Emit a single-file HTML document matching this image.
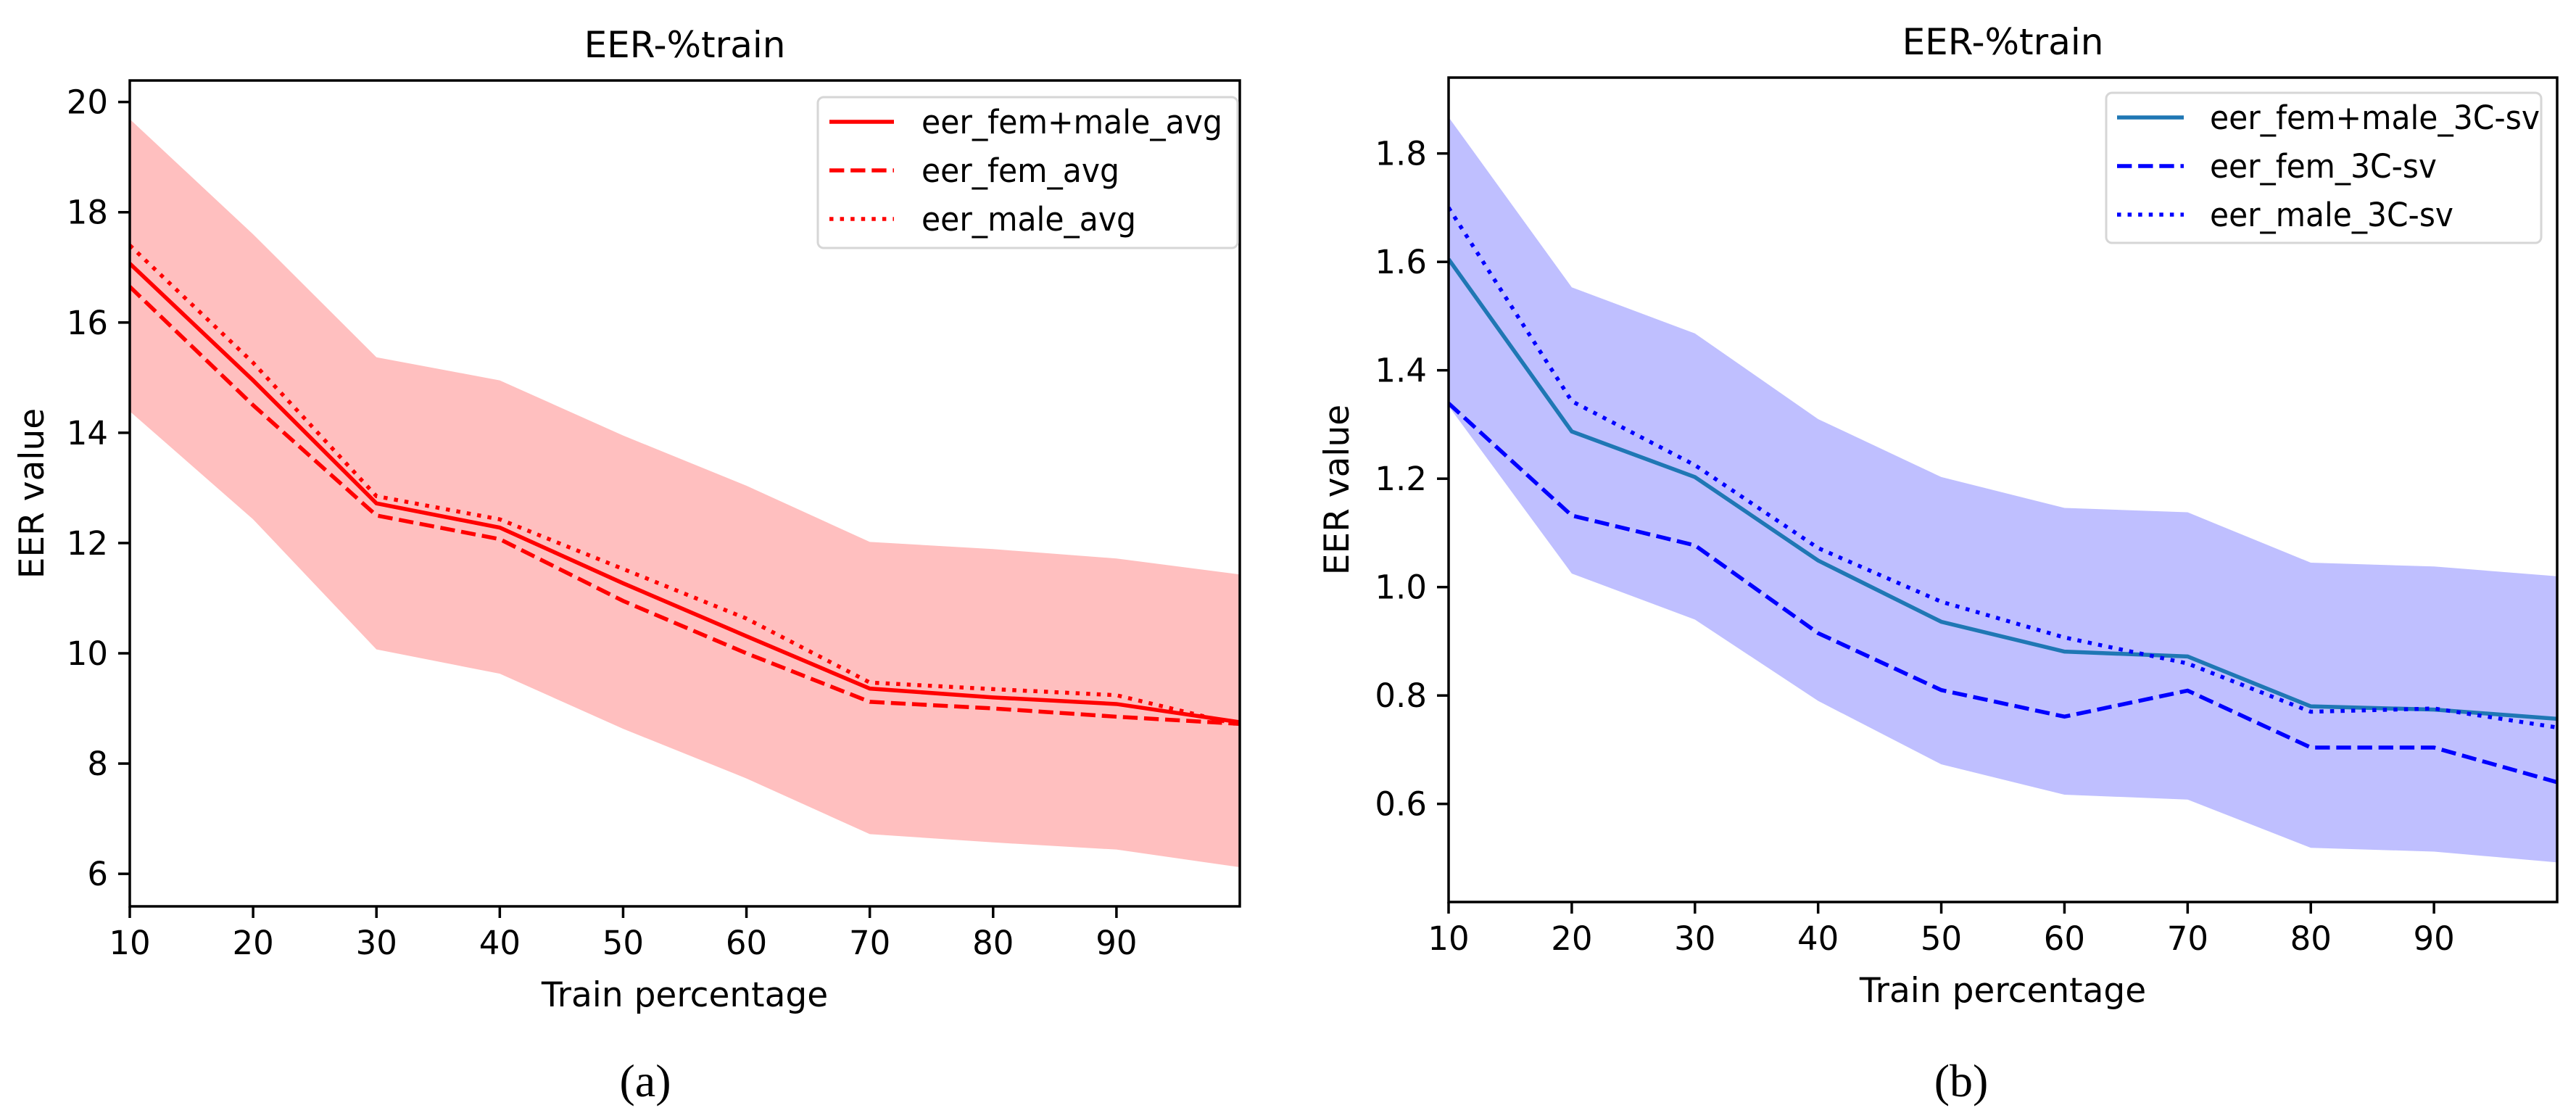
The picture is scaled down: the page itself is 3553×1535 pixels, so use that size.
<!DOCTYPE html>
<html><head><meta charset="utf-8"><style>
html,body{margin:0;padding:0;background:#fff;}
svg{display:block;font-family:"DejaVu Sans","Liberation Sans",sans-serif;}
</style></head><body>
<svg id="fig" width="3553" height="1535" viewBox="0 0 3553 1535" xmlns="http://www.w3.org/2000/svg"></svg>
<script>
const xCats = [10,20,30,40,50,60,70,80,90,100];
const xTicks = [10,20,30,40,50,60,70,80,90];
// Panel (a)
const aMean = [17.07,14.95,12.72,12.28,11.27,10.31,9.36,9.2,9.08,8.75];
const aFem  = [16.65,14.5,12.5,12.07,10.95,10.0,9.12,9.0,8.85,8.72];
const aMale = [17.4,15.27,12.85,12.43,11.53,10.63,9.47,9.35,9.24,8.7];
const aUpper = [19.69,17.6,15.37,14.95,13.95,13.04,12.02,11.89,11.72,11.43];
const aLower = [14.39,12.43,10.07,9.63,8.63,7.73,6.72,6.57,6.44,6.12];
const aYTicks = [6,8,10,12,14,16,18,20];
// Panel (b)
const bMean = [1.605,1.287,1.203,1.049,0.936,0.881,0.872,0.78,0.774,0.757];
const bFem  = [1.339,1.132,1.077,0.915,0.81,0.761,0.809,0.704,0.704,0.64];
const bMale = [1.70,1.343,1.225,1.072,0.973,0.907,0.859,0.77,0.776,0.741];
const bUpper = [1.867,1.553,1.468,1.31,1.203,1.146,1.138,1.045,1.038,1.02];
const bLower = [1.334,1.025,0.94,0.79,0.673,0.617,0.608,0.519,0.512,0.492];
const bYTicks = [0.6,0.8,1.0,1.2,1.4,1.6,1.8];
const aLegend = ["eer_fem+male_avg","eer_fem_avg","eer_male_avg"];
const bLegend = ["eer_fem+male_3C-sv","eer_fem_3C-sv","eer_male_3C-sv"];

const NS="http://www.w3.org/2000/svg";
const svg=document.getElementById('fig');
function el(tag,attrs,parent,text){const e=document.createElementNS(NS,tag);for(const k in attrs)e.setAttribute(k,attrs[k]);if(text!==undefined)e.textContent=text;(parent||svg).appendChild(e);return e;}

function panel(cfg){
  const g=el('g',{},svg);
  
  
  const X=v=>cfg.l+(v-10)/90*(cfg.r-cfg.l);
  const Y=v=>cfg.b-(v-cfg.ymin)/(cfg.ymax-cfg.ymin)*(cfg.b-cfg.t);
  let d='M'+xCats.map((x,i)=>X(x)+','+Y(cfg.upper[i])).join(' L');
  for(let i=xCats.length-1;i>=0;i--) d+=' L'+X(xCats[i])+','+Y(cfg.lower[i]);
  const band=el('path',{d:d+'Z',fill:cfg.band,stroke:'none'},g);
  
  
  const lw=5.5;
  const styles=[{c:cfg.c1,da:''},{c:cfg.c2,da:(3.7*lw)+','+(1.6*lw)},{c:cfg.c2,da:(1*lw)+','+(1.65*lw)}];
  const series=[cfg.mean,cfg.fem,cfg.male];
  const names=['line-mean','line-fem','line-male'];
  const clip=el('clipPath',{id:'clip'+cfg.name},g);
  el('rect',{x:cfg.l,y:cfg.t,width:cfg.r-cfg.l,height:cfg.b-cfg.t},clip);
  series.forEach((s,k)=>{
    const p=el('polyline',{points:xCats.map((x,i)=>X(x)+','+Y(s[i])).join(' '),fill:'none',stroke:styles[k].c,'stroke-width':lw,'stroke-dasharray':styles[k].da,'clip-path':'url(#clip'+cfg.name+')'},g);
    
    
  });
  const fr=el('rect',{x:cfg.l,y:cfg.t,width:cfg.r-cfg.l,height:cfg.b-cfg.t,fill:'none',stroke:'#000','stroke-width':3.5},g);
  
  
  xTicks.forEach(v=>{
    el('line',{x1:X(v),x2:X(v),y1:cfg.b,y2:cfg.b+16,stroke:'#000','stroke-width':3.5},g);
    const t=el('text',{x:X(v),y:cfg.b+66,'font-size':45,'text-anchor':'middle',fill:'#000'},g,String(v));
    
    
  });
  cfg.yticks.forEach(v=>{
    el('line',{x1:cfg.l-16,x2:cfg.l,y1:Y(v),y2:Y(v),stroke:'#000','stroke-width':3.5},g);
    const t=el('text',{x:cfg.l-30,y:Y(v)+16,'font-size':45,'text-anchor':'end',fill:'#000'},g,cfg.fmt(v));
    
    
  });
  const cx=(cfg.l+cfg.r)/2;
  const ti=el('text',{x:cx,y:cfg.t-32,'font-size':50,'text-anchor':'middle',fill:'#000'},g,'EER-%train');
  
  
  const xl=el('text',{x:cx,y:cfg.b+138,'font-size':47,'text-anchor':'middle',fill:'#000'},g,'Train percentage');
  
  
  const yl=el('text',{x:cfg.ylx,y:(cfg.t+cfg.b)/2,'font-size':47,'text-anchor':'middle',fill:'#000',transform:'rotate(-90 '+cfg.ylx+' '+(cfg.t+cfg.b)/2+')'},g,'EER value');
  
  
  const cap=el('text',{x:cfg.capx,y:1512,'font-size':64,'text-anchor':'middle',fill:'#000','font-family':'"Liberation Serif",serif'},g,'('+cfg.cap+')');
  
  
  const L=cfg.leg;
  const lg=el('g',{},g);
  
  
  el('rect',{x:L.x1,y:L.y1,width:L.x2-L.x1,height:L.y2-L.y1,rx:8,fill:'#fff','fill-opacity':0.8,stroke:'#d6d6d6','stroke-width':3},lg);
  cfg.labels.forEach((lab,k)=>{
    const ry=L.y1+34+k*67;
    el('line',{x1:L.lx1,x2:L.lx2,y1:ry,y2:ry,stroke:styles[k].c,'stroke-width':lw,'stroke-dasharray':styles[k].da},lg);
    const t=el('text',{x:L.tx,y:ry+16,'font-size':45,fill:'#000',textLength:L.tw[k],lengthAdjust:'spacingAndGlyphs'},lg,lab);
    
    
  });
}
panel({name:'panel-a',l:179,r:1710,t:111,b:1250,ymin:5.41,ymax:20.39,mean:aMean,fem:aFem,male:aMale,upper:aUpper,lower:aLower,yticks:aYTicks,fmt:v=>String(v),band:'#ffbfbf',c1:'#ff0000',c2:'#ff0000',ylx:60,capx:890,cap:'a',labels:aLegend,leg:{x1:1128,y1:134,x2:1707,y2:342,lx1:1144,lx2:1233,tx:1271,tw:[415,273,296]}});
panel({name:'panel-b',l:1998,r:3527,t:107,b:1244,ymin:0.419,ymax:1.94,mean:bMean,fem:bFem,male:bMale,upper:bUpper,lower:bLower,yticks:bYTicks,fmt:v=>v.toFixed(1),band:'#bfbfff',c1:'#1f77b4',c2:'#0000ff',ylx:1860,capx:2705,cap:'b',labels:bLegend,leg:{x1:2905,y1:128,x2:3505,y2:335,lx1:2920,lx2:3012,tx:3048,tw:[455,313,336]}});
</script>
</body></html>
